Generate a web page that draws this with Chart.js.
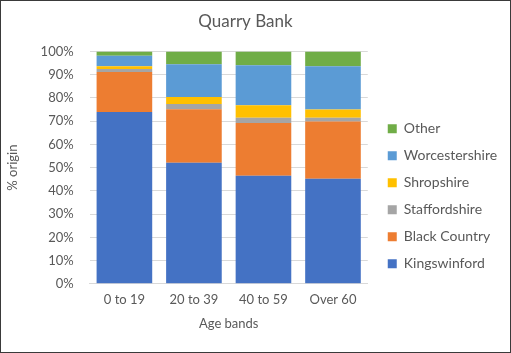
<!DOCTYPE html>
<html>
<head>
<meta charset="utf-8">
<script src="https://cdn.jsdelivr.net/npm/chart.js@4"></script>
<style>
  html, body { margin:0; padding:0; background:#fff; }
  #wrap { position:relative; width:509px; height:351px; border:1px solid #3a3a3a; }
</style>
</head>
<body>
<div id="wrap"><canvas id="chart"></canvas></div>
<script>
// categories and series (percent of origin)
const ageBands = ["0 to 19", "20 to 39", "40 to 59", "Over 60"];
const kingswinford   = [73.9, 52.1, 46.5, 45.2];
const blackCountry   = [17.2, 23.0, 22.7, 24.6];
const staffordshire  = [1.3, 2.3, 2.3, 1.6];
const shropshire     = [1.2, 3.0, 5.3, 3.6];
const worcestershire = [4.5, 14.1, 17.2, 18.6];
const other          = [1.9, 5.5, 6.0, 6.4];

const textCol = "#595959";
Chart.defaults.font.family = "Lato, 'Open Sans', sans-serif";
Chart.defaults.color = textCol;

function ds(label, data, color){
  return {label:label, data:data, backgroundColor:color, borderWidth:0,
          barPercentage:0.8, categoryPercentage:1.0};
}

// nudge legend right a bit to leave a wider gap after the plot
const legendGap = {
  id: "legendGap",
  afterLayout(chart){
    chart.legend.left += 7;
    chart.legend.right += 7;
  }
};

new Chart(document.getElementById("chart"), {
  type: "bar",
  data: {
    labels: ageBands,
    datasets: [
      ds("Kingswinford", kingswinford, "#4472C4"),
      ds("Black Country", blackCountry, "#ED7D31"),
      ds("Staffordshire", staffordshire, "#A5A5A5"),
      ds("Shropshire", shropshire, "#FFC000"),
      ds("Worcestershire", worcestershire, "#5B9BD5"),
      ds("Other", other, "#70AD47")
    ]
  },
  plugins: [legendGap],
  options: {
    responsive: true,
    maintainAspectRatio: false,
    animation: false,
    layout: { padding: { left: 0, right: 20, top: 8, bottom: 16 } },
    plugins: {
      title: { display:true, text:"Quarry Bank", color:textCol,
               font:{size:17, weight:"normal"}, padding:{top:2, bottom:20} },
      legend: {
        position: "right",
        reverse: true,
        title: { display:true, text:" ", padding:{top:33, bottom:0} },
        labels: { boxWidth:9, boxHeight:9, padding:13, color:textCol, font:{size:14} }
      },
      tooltip: { enabled:false }
    },
    scales: {
      x: {
        stacked: true,
        grid: { display:false },
        border: { color:"#d9d9d9" },
        ticks: { font:{size:13}, color:textCol, padding:0 },
        title: { display:true, text:"Age bands", color:textCol, font:{size:13}, padding:{top:9} }
      },
      y: {
        stacked: true,
        min: 0, max: 100,
        grid: { color:"#d9d9d9", drawTicks:false },
        border: { display:false },
        ticks: { stepSize:10, font:{size:13}, color:textCol, padding:16,
                 callback: v => v + "%" },
        title: { display:true, text:"% origin", color:textCol, font:{size:13}, padding:{bottom:4} }
      }
    }
  }
});
</script>
</body>
</html>
